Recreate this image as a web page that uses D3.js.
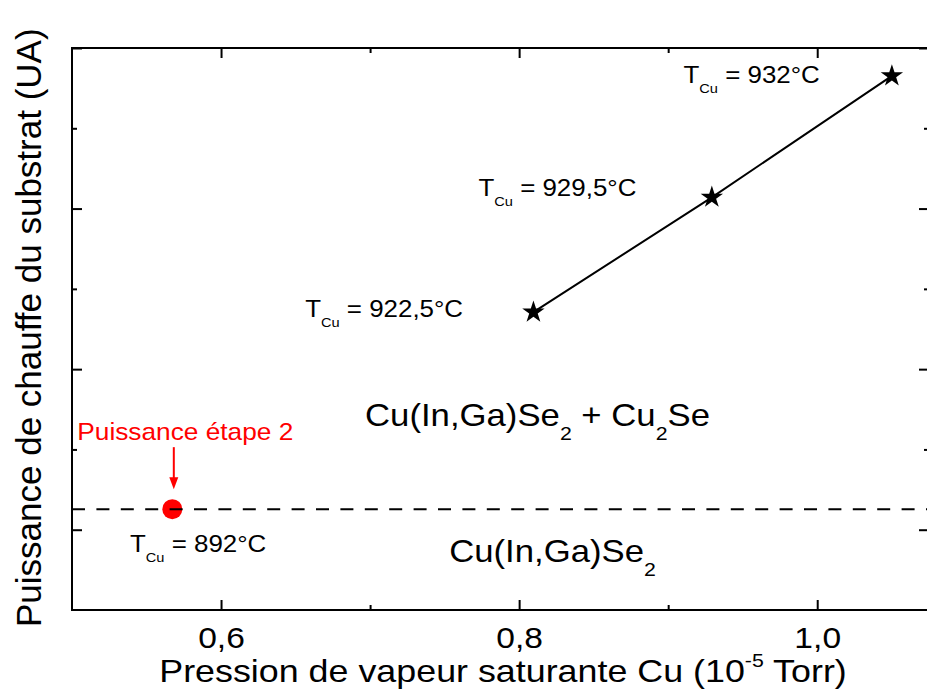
<!DOCTYPE html>
<html><head><meta charset="utf-8">
<script src="https://cdn.jsdelivr.net/npm/d3@7"></script>
<style>body{margin:0;background:#fff} svg{display:block} text{font-family:"Liberation Sans",Arial,sans-serif}</style>
</head><body><svg id="c" width="927" height="690"></svg>
<script>
// ---- data ----
const pressure = [0.8096, 0.9293, 1.0501];
const power = [1.355, 2.07, 2.826];
const tempLabels = ["922,5°C", "929,5°C", "932°C"];
const step2Pressure = [0.5673];
const step2Power = [0.128];
const step2Label = "892°C";
const xMajorTicks = [0.6, 0.8, 1.0];
const xTickLabels = ["0,6", "0,8", "1,0"];
const xMinorTicks = [0.7, 0.9];
const yMajorTicks = [0, 1, 2, 3];
const yMinorTicks = [0.5, 1.5, 2.5];

// ---- layout ----
const svg = d3.select("#c");
const L = 72, R = 929, T = 48, B = 610;
const x = d3.scaleLinear().domain([0.5, 1.075]).range([L, R]);
const y = d3.scaleLinear().domain([-0.5, 3]).range([B, T]);
const SX = 1.12;

function axisG(axis, tr) {
  const g = svg.append("g").attr("transform", tr).call(axis);
  g.select(".domain").remove();
  g.selectAll(".tick line").attr("stroke", "#000").attr("stroke-width", 2);
  return g;
}
const noLab = () => "";
// bottom
const gb = axisG(d3.axisBottom(x).tickValues(xMajorTicks).tickSize(-10).tickSizeOuter(0).tickPadding(17)
  .tickFormat((d, i) => xTickLabels[i]), `translate(0,${B})`);
gb.selectAll(".tick text").attr("font-size", 30).attr("font-family", '"Liberation Sans",Arial,sans-serif')
  .attr("fill", "#000").attr("transform", `scale(${SX},1)`);
axisG(d3.axisBottom(x).tickValues(xMinorTicks).tickSize(-5).tickSizeOuter(0).tickFormat(noLab), `translate(0,${B})`);
// top
axisG(d3.axisTop(x).tickValues(xMajorTicks).tickSize(-10).tickSizeOuter(0).tickFormat(noLab), `translate(0,${T})`);
axisG(d3.axisTop(x).tickValues(xMinorTicks).tickSize(-5).tickSizeOuter(0).tickFormat(noLab), `translate(0,${T})`);
// left
axisG(d3.axisLeft(y).tickValues(yMajorTicks).tickSize(-10).tickSizeOuter(0).tickFormat(noLab), `translate(${L},0)`);
axisG(d3.axisLeft(y).tickValues(yMinorTicks).tickSize(-5).tickSizeOuter(0).tickFormat(noLab), `translate(${L},0)`);
// right
axisG(d3.axisRight(y).tickValues(yMajorTicks).tickSize(-10).tickSizeOuter(0).tickFormat(noLab), `translate(${R},0)`);
axisG(d3.axisRight(y).tickValues(yMinorTicks).tickSize(-5).tickSizeOuter(0).tickFormat(noLab), `translate(${R},0)`);

// frame
svg.append("rect").attr("x", L).attr("y", T).attr("width", R - L).attr("height", B - T)
  .attr("fill", "none").attr("stroke", "#000").attr("stroke-width", 2);

// series line + stars
const idx = d3.range(pressure.length);
svg.append("path").attr("d", d3.line().x(i => x(pressure[i])).y(i => y(power[i]))(idx))
  .attr("fill", "none").attr("stroke", "#000").attr("stroke-width", 2);
svg.selectAll(".star").data(idx).join("path")
  .attr("transform", i => `translate(${x(pressure[i])},${y(power[i])})`)
  .attr("d", d3.symbol(d3.symbolStar, 155)).attr("fill", "#000");

// step-2 point and dashed level
svg.selectAll(".dot").data(step2Pressure).join("circle")
  .attr("cx", d => x(d)).attr("cy", (d, i) => y(step2Power[i])).attr("r", 10).attr("fill", "#ff0000");
svg.append("line").attr("x1", x(0.5)).attr("x2", x(1.075))
  .attr("y1", y(step2Power[0])).attr("y2", y(step2Power[0]))
  .attr("stroke", "#000").attr("stroke-width", 2).attr("stroke-dasharray", "13,11.4");

// T labels
function tLabel(px, py, val, fs) {
  const t = svg.append("text").attr("transform", `translate(${px},${py}) scale(1.08,1)`)
    .attr("font-size", fs).attr("fill", "#000");
  t.append("tspan").text("T");
  t.append("tspan").attr("font-size", 13.5).attr("dy", 10).text("Cu");
  t.append("tspan").attr("dy", -10).text(" = " + val);
}
const labOff = [[-228.3, 4.5], [-233.4, -1], [-208.4, 6.6]];
idx.forEach(i => tLabel(x(pressure[i]) + labOff[i][0], y(power[i]) + labOff[i][1], tempLabels[i], 24));
tLabel(x(step2Pressure[0]) - 42.3, y(step2Power[0]) + 43.3, step2Label, 24);

// red annotation
const dx0 = x(step2Pressure[0]) + 1.5, dy0 = y(step2Power[0]);
svg.append("text").attr("transform", `translate(77.3,440) scale(1.094,1)`)
  .attr("font-size", 24).attr("fill", "#ff0000").text("Puissance étape 2");
svg.append("line").attr("x1", dx0).attr("x2", dx0).attr("y1", dy0 - 62).attr("y2", dy0 - 30)
  .attr("stroke", "#ff0000").attr("stroke-width", 2);
svg.append("path").attr("d", `M${dx0 - 4.5},${dy0 - 32} L${dx0 + 4.5},${dy0 - 32} L${dx0},${dy0 - 20} Z`)
  .attr("fill", "#ff0000");

// phase labels
function phase(cx, by, parts) {
  const t = svg.append("text").attr("transform", `translate(${cx},${by}) scale(${SX},1)`)
    .attr("font-size", 31).attr("fill", "#000").attr("text-anchor", "middle");
  parts.forEach(p => {
    if (p[1]) t.append("tspan").attr("font-size", 19).attr("dy", 14).text(p[0]);
    else t.append("tspan").attr("dy", p[2] || 0).text(p[0]);
  });
}
phase(537.5, 425.5, [["Cu(In,Ga)Se"], ["2", true], [" + Cu", false, -14], ["2", true], ["Se", false, -14]]);
phase(552.5, 561.5, [["Cu(In,Ga)Se"], ["2", true]]);

// axis titles
const xt = svg.append("text").attr("transform", `translate(503,681.7) scale(${SX},1)`)
  .attr("font-size", 32).attr("text-anchor", "middle").attr("fill", "#000");
xt.append("tspan").text("Pression de vapeur saturante Cu (10");
xt.append("tspan").attr("font-size", 19).attr("dy", -15).text("-5");
xt.append("tspan").attr("dy", 15).text(" Torr)");
svg.append("text").attr("transform", "translate(40.7,627) rotate(-90)")
  .attr("font-size", 35).attr("fill", "#000").text("Puissance de chauffe du substrat (UA)");
</script></body></html>
